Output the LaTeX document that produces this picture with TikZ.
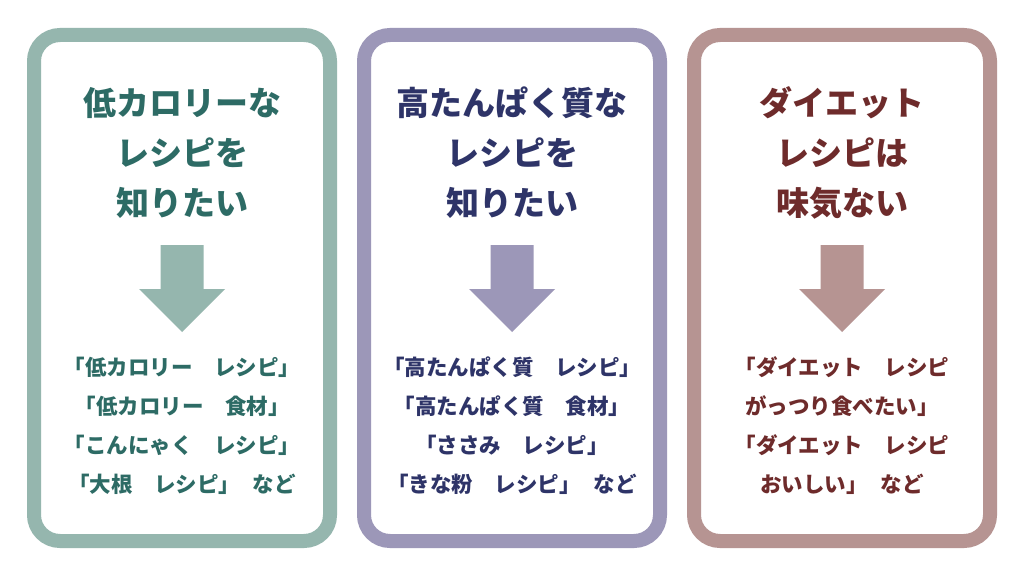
\documentclass[tikz,border=0pt]{standalone}
\usepackage{fontspec}
\usepackage{xcolor}
\usepackage{tikz}
\usetikzlibrary{positioning}
\newfontfamily\jpfont{Noto Sans CJK JP}
\definecolor{tealline}{HTML}{95B6AE}
\definecolor{tealtext}{HTML}{2D6B65}
\definecolor{purpline}{HTML}{9C97B8}
\definecolor{purptext}{HTML}{2E3468}
\definecolor{roseline}{HTML}{B69492}
\definecolor{rosetext}{HTML}{6E2B2B}

\begin{document}
\begin{tikzpicture}[x=1pt,y=-1pt,
  panel/.style={draw=#1,line width=14pt,rounded corners=26pt,fill=white},
  title/.style={text=#1,align=center,font=\jpfont\bfseries\fontsize{33}{50}\selectfont},
  query/.style={text=#1,align=center,font=\jpfont\bfseries\fontsize{21.5}{39}\selectfont}]
\useasboundingbox (0,0) rectangle (1024,577);
\fill[white] (0,0) rectangle (1024,577);

% panels
\draw[panel=tealline] (34,35) rectangle (330,541);
\draw[panel=purpline] (364,35) rectangle (660,541);
\draw[panel=roseline] (694,35) rectangle (990,541);

% titles
\node[title=tealtext] (lowcal) at (182,153) {低カロリーな\\レシピを\\知りたい};
\node[title=purptext] (protein) at (512,153) {高たんぱく質な\\レシピを\\知りたい};
\node[title=rosetext] (diet) at (842,153) {ダイエット\\レシピは\\味気ない};

% arrows
\coordinate (lowcalarr) at (182,245);
\coordinate (proteinarr) at (512,245);
\coordinate (dietarr) at (842,245);
\fill[tealline] (lowcalarr) ++(-21.5,0) -- ++(43,0) -- ++(0,44) -- ++(21.5,0) -- ++(-43,43) -- ++(-43,-43) -- ++(21.5,0) -- cycle;
\fill[purpline] (proteinarr) ++(-21.5,0) -- ++(43,0) -- ++(0,44) -- ++(21.5,0) -- ++(-43,43) -- ++(-43,-43) -- ++(21.5,0) -- cycle;
\fill[roseline] (dietarr) ++(-21.5,0) -- ++(43,0) -- ++(0,44) -- ++(21.5,0) -- ++(-43,43) -- ++(-43,-43) -- ++(21.5,0) -- cycle;

% search words
\node[query=tealtext] (lowcalq) at (182,426) {「低カロリー　レシピ」\\「低カロリー　食材」\\「こんにゃく　レシピ」\\「大根　レシピ」\hspace{0.6em}など};
\node[query=purptext] (proteinq) at (512,426) {「高たんぱく質　レシピ」\\「高たんぱく質　食材」\\「ささみ　レシピ」\\「きな粉　レシピ」\hspace{0.6em}など};
\node[query=rosetext] (dietq) at (842,426) {「ダイエット　レシピ\\がっつり食べたい」\\「ダイエット　レシピ\\おいしい」\hspace{0.6em}など};
\end{tikzpicture}
\end{document}
